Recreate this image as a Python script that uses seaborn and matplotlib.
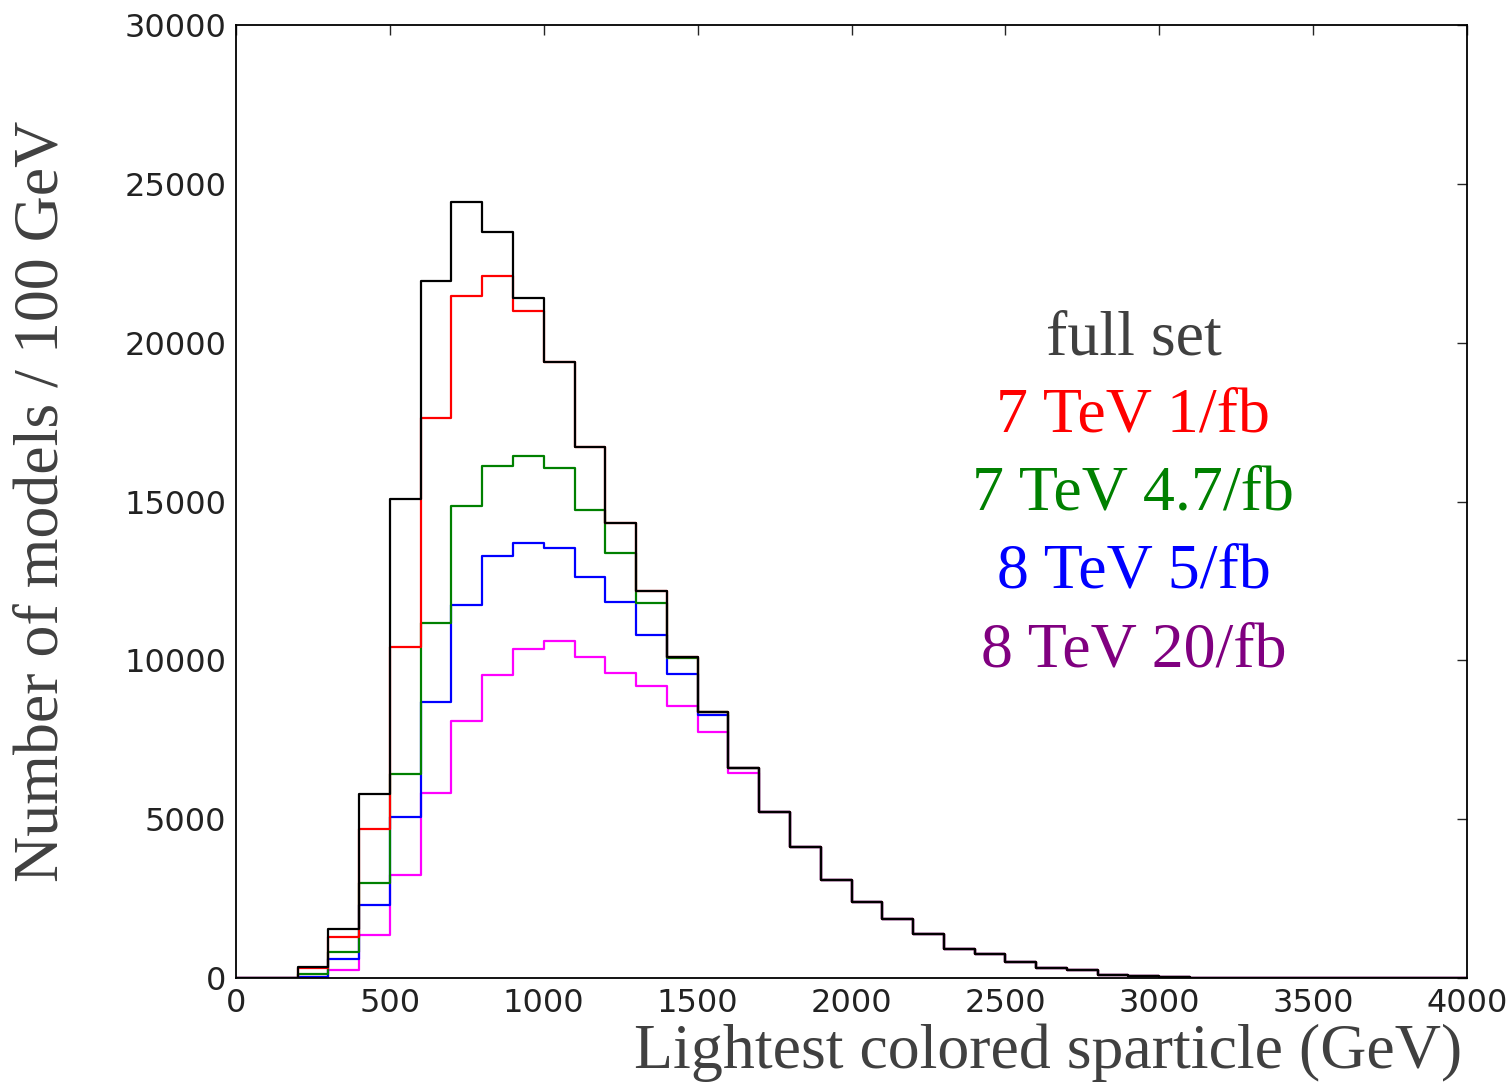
import numpy as np
import pandas as pd
import matplotlib
matplotlib.use("Agg")
import matplotlib.pyplot as plt
import seaborn as sns

# bin edges: 100 GeV bins from 0 to 4000 GeV
bin_edges = list(range(0, 4001, 100))
bin_centers = [e + 50 for e in bin_edges[:-1]]

# counts per 100 GeV bin
tail = [5240, 4110, 3100, 2400, 1860, 1370, 910, 745, 515, 300, 250, 95, 60, 40,
        15, 8, 5, 3, 2, 1, 1, 0, 0]
full_set = [0, 0, 360, 1540, 5790, 15080, 21940, 24430, 23490, 21420, 19400, 16720,
            14310, 12180, 10110, 8380, 6600] + tail
tev7_1fb = [0, 0, 300, 1280, 4680, 10430, 17620, 21480, 22110, 21000, 19400, 16720,
            14310, 12180, 10110, 8380, 6600] + tail
tev7_47fb = [0, 0, 115, 810, 2980, 6420, 11180, 14860, 16120, 16430, 16060, 14730,
             13370, 11810, 10080, 8380, 6600] + tail
tev8_5fb = [0, 0, 40, 610, 2300, 5060, 8680, 11740, 13290, 13680, 13550, 12610,
            11830, 10800, 9570, 8280, 6600] + tail
tev8_20fb = [0, 0, 20, 250, 1350, 3240, 5810, 8100, 9540, 10360, 10610, 10100,
             9610, 9190, 8570, 7750, 6440] + tail

labels = ["full set", "7 TeV 1/fb", "7 TeV 4.7/fb", "8 TeV 5/fb", "8 TeV 20/fb"]
series = [full_set, tev7_1fb, tev7_47fb, tev8_5fb, tev8_20fb]
line_colors = ["black", "red", "green", "blue", "magenta"]
text_colors = ["#404040", "red", "green", "blue", "purple"]

sns.set_style("white")
plt.rcParams["font.family"] = ["DejaVu Sans"]

fig = plt.figure(figsize=(15.12, 10.85), dpi=100)
ax = fig.add_axes([236 / 1512, 1 - 978 / 1085, 1231 / 1512, 953 / 1085])

# draw the lowest series first so the full set ends up on top
for lab, vals, col in reversed(list(zip(labels, series, line_colors))):
    sns.histplot(x=bin_centers, weights=vals, bins=bin_edges, element="step",
                 fill=False, color=col, linewidth=1.6, ax=ax)

ax.set_xlim(0, 4000)
ax.set_ylim(0, 30000)
ax.set_xticks(np.arange(0, 4001, 500))
ax.set_yticks(np.arange(0, 30001, 5000))
ax.tick_params(direction="in", length=7, width=1, top=True, right=True,
               labelsize=23, labelcolor="#222222", pad=7)
for sp in ax.spines.values():
    sp.set_linewidth(1.3)
    sp.set_color("black")

serif = ["Liberation Serif", "DejaVu Serif"]
ax.set_ylabel("Number of models / 100 GeV", fontsize=46, family=serif, color="#404040")
ax.yaxis.set_label_coords(-0.134, 0.5)
ax.set_xlabel("Lightest colored sparticle (GeV)", fontsize=46, family=serif,
              color="#404040", loc="right")
ax.xaxis.set_label_coords(0.996, -0.048)

# coloured legend text
text_y = [0.670, 0.589, 0.507, 0.425, 0.343]
for lab, col, ty in zip(labels, text_colors, text_y):
    ax.text(0.729, ty, lab, transform=ax.transAxes, ha="center", va="center",
            fontsize=46, family=serif, color=col)

fig.savefig("out.png", dpi=100)
